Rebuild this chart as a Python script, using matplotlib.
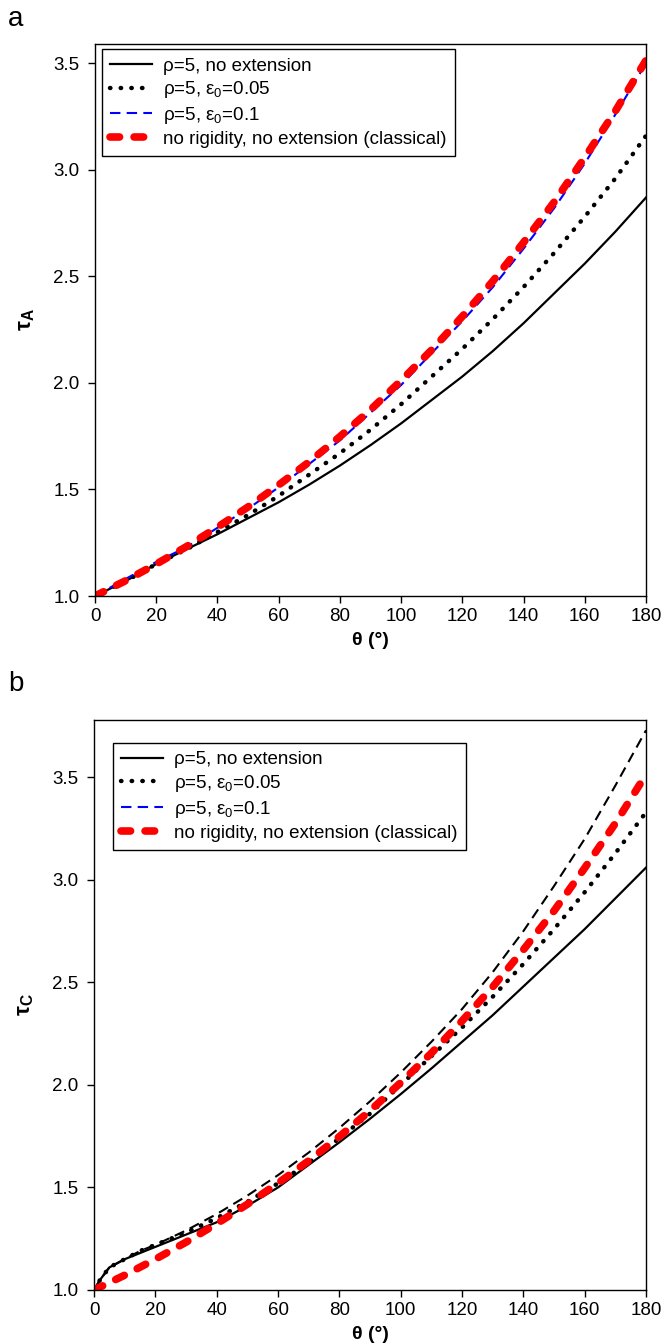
import matplotlib
matplotlib.use('Agg')
import matplotlib.pyplot as plt

plt.rcParams['font.family'] = ['Liberation Sans', 'DejaVu Sans']
plt.rcParams['mathtext.fontset'] = 'custom'
plt.rcParams['mathtext.rm'] = 'Liberation Sans'
plt.rcParams['mathtext.it'] = 'Liberation Sans:italic'
plt.rcParams['mathtext.bf'] = 'Liberation Sans:bold'

# angles (deg)
theta = [0, 10, 20, 30, 40, 50, 60, 70, 80, 90, 100, 110, 120, 130, 140, 150, 160, 170, 180]
theta_b = [0, 2, 5, 10, 15, 20, 30, 40, 50, 60, 70, 80, 90, 100, 110, 120, 130, 140, 150,
           160, 170, 180]

# classical capstan (same in both panels)
classical = [1.0, 1.072, 1.15, 1.233, 1.323, 1.418, 1.521, 1.630, 1.748, 1.874, 2.011,
             2.155, 2.312, 2.478, 2.659, 2.849, 3.058, 3.276, 3.514]

# panel a: tau_A
a_noext = [1.0, 1.07, 1.15, 1.22, 1.29, 1.365, 1.44, 1.523, 1.612, 1.708, 1.81, 1.92, 2.03,
           2.15, 2.28, 2.42, 2.56, 2.71, 2.87]
a_eps005 = [1.0, 1.07, 1.15, 1.22, 1.30, 1.38, 1.47, 1.57, 1.67, 1.78, 1.90, 2.03, 2.16,
            2.30, 2.45, 2.61, 2.78, 2.96, 3.16]
a_eps01 = [1.0, 1.08, 1.16, 1.23, 1.32, 1.41, 1.51, 1.62, 1.73, 1.86, 1.99, 2.14, 2.29,
           2.45, 2.63, 2.82, 3.03, 3.26, 3.50]

# panel b: tau_C
b_noext = [1.0, 1.05, 1.11, 1.15, 1.18, 1.21, 1.27, 1.33, 1.41, 1.50, 1.61, 1.72, 1.835,
           1.955, 2.08, 2.21, 2.34, 2.48, 2.62, 2.76, 2.91, 3.06]
b_eps005 = [1.0, 1.05, 1.11, 1.15, 1.19, 1.22, 1.28, 1.35, 1.43, 1.52, 1.62, 1.74, 1.86,
            2.00, 2.14, 2.28, 2.43, 2.59, 2.76, 2.94, 3.13, 3.33]
b_eps01 = [1.0, 1.05, 1.11, 1.15, 1.19, 1.22, 1.29, 1.37, 1.46, 1.56, 1.67, 1.79, 1.92,
           2.06, 2.21, 2.37, 2.55, 2.75, 2.97, 3.20, 3.46, 3.73]

labels = ['ρ=5, no extension',
          r'ρ=5, ε$_0$=0.05',
          r'ρ=5, ε$_0$=0.1',
          'no rigidity, no extension (classical)']

fig = plt.figure(figsize=(6.63, 13.43), dpi=100)
ax1 = fig.add_axes([0.1433, 0.5562, 0.8311, 0.4110])
ax2 = fig.add_axes([0.1418, 0.0395, 0.8326, 0.4244])


def draw(ax, x, noext, eps005, eps01, eps01_color, ylab, ymax, loc_box):
    ax.plot(x, noext, color='black', lw=1.6, label=labels[0])
    ax.plot(x, eps005, color='black', lw=3.2, linestyle=(0, (0.1, 2.3)),
            dash_capstyle='round', label=labels[1])
    ax.plot(x, eps01, color=eps01_color, lw=1.5, linestyle=(0, (5, 3)),
            label=labels[2])
    ax.plot(theta, classical, color='red', lw=5.5, linestyle=(0, (1.25, 1.9)),
            dash_capstyle='round', label=labels[3])
    ax.set_xlim(0, 180)
    ax.set_ylim(1.0, ymax)
    ax.set_xticks(range(0, 181, 20))
    ax.set_yticks([1.0, 1.5, 2.0, 2.5, 3.0, 3.5])
    ax.set_yticklabels(['1.0', '1.5', '2.0', '2.5', '3.0', '3.5'])
    ax.tick_params(direction='out', length=5, width=1, labelsize=13.5)
    ax.tick_params(axis='y', pad=6)
    for s in ax.spines.values():
        s.set_linewidth(1.0)
    ax.set_xlabel('θ (°)', fontsize=14, fontweight='bold', labelpad=5)
    ax.set_ylabel(ylab, fontsize=16, labelpad=12)
    leg = ax.legend(loc='upper left', bbox_to_anchor=loc_box, borderaxespad=0,
                    fontsize=13.5, handlelength=2.2, handletextpad=0.6,
                    labelspacing=0.25, borderpad=0.45, fancybox=False, framealpha=1)
    leg.get_frame().set_edgecolor('black')
    leg.get_frame().set_linewidth(1.0)
    # legend swatch for the third series is blue in both panels
    leg.get_lines()[2].set_color('blue')


draw(ax1, theta, a_noext, a_eps005, a_eps01, 'blue', r'$\mathbf{\tau_A}$', 3.59,
     (0.0127, 0.991))
draw(ax2, theta_b, b_noext, b_eps005, b_eps01, 'black', r'$\mathbf{\tau_C}$', 3.78,
     (0.0344, 0.96))

fig.text(0.012, 0.986, 'a', fontsize=20, va='center')
fig.text(0.012, 0.491, 'b', fontsize=20, va='center')

fig.savefig('out.png', dpi=100)
